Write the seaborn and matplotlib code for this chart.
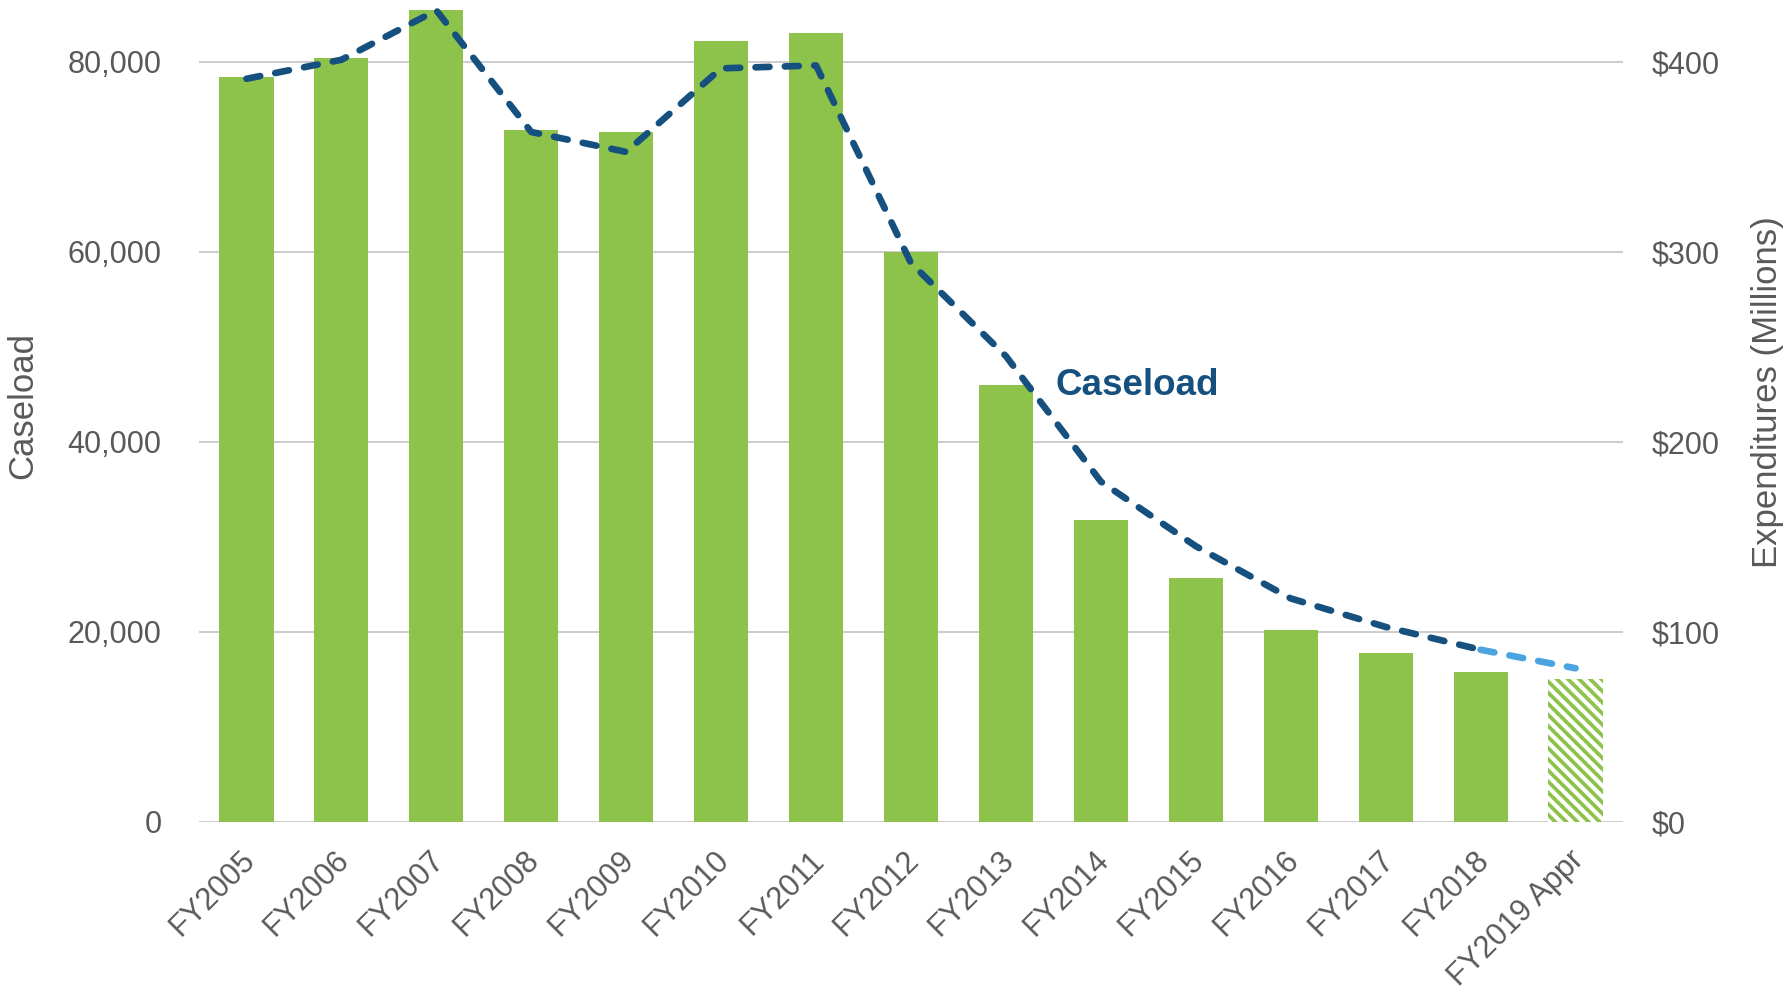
import matplotlib
matplotlib.use("Agg")
import matplotlib.pyplot as plt
import matplotlib.transforms as mtransforms
import seaborn as sns
import numpy as np
import pandas as pd

# ---- data ----
years = ["FY2005", "FY2006", "FY2007", "FY2008", "FY2009", "FY2010", "FY2011",
         "FY2012", "FY2013", "FY2014", "FY2015", "FY2016", "FY2017", "FY2018",
         "FY2019 Appr"]
expenditures = [392, 402, 427, 364, 363, 411, 415, 300, 230, 159, 128, 101, 89, 79, 75]
caseload = [78200, 80200, 85400, 72600, 70500, 79300, 79600, 58800, 49000,
            35800, 29000, 23500, 20500, 18100, 16150]
left_ticks = [0, 20000, 40000, 60000, 80000]
right_ticks = [0, 100, 200, 300, 400]

GREEN = "#8DC34B"
DARK = "#16507E"
LIGHT = "#4BA3E0"
GREY_TXT = "#595959"
GRID = "#BFBFBF"

sns.set_style("white")
plt.rcParams["font.family"] = ["Liberation Sans", "DejaVu Sans"]
plt.rcParams["hatch.linewidth"] = 2.7
plt.rcParams["hatch.color"] = GREEN

W, H = 1791, 997
fig = plt.figure(figsize=(W / 100, H / 100), dpi=100)
ax_l, ax_r, ax_b, ax_t = 199, 1623, 821.7, 8
ax = fig.add_axes([ax_l / W, 1 - ax_b / H, (ax_r - ax_l) / W, (ax_b - ax_t) / H])

df = pd.DataFrame({"year": years, "exp": expenditures, "case": caseload})
sns.barplot(data=df, x="year", y="exp", color=GREEN, saturation=1, width=0.57,
            errorbar=None, linewidth=0, ax=ax, zorder=2)
last = ax.patches[len(years) - 1]
last.set_facecolor("white")
last.set_edgecolor(GREEN)
last.set_linewidth(0)
last.set_hatch("\\\\\\")

ymax_case = 85650
ax.set_ylim(0, ymax_case / 200)
ax.set_xlim(-0.5, len(years) - 0.5)
ax.set_yticks(right_ticks)
ax.set_yticklabels([f"${v}" for v in right_ticks])
ax.yaxis.grid(True, color=GRID, linewidth=1.1, zorder=0)
ax.set_axisbelow(True)

ax2 = ax.twinx()
ax.yaxis.tick_right()
ax.yaxis.set_label_position("right")
ax2.yaxis.tick_left()
ax2.yaxis.set_label_position("left")

xs = np.arange(len(years))
d1 = pd.DataFrame({"x": xs[:14], "y": caseload[:14]})
d2 = pd.DataFrame({"x": xs[13:], "y": caseload[13:]})
line_kw = dict(linewidth=4.8, linestyle=(0, (2.1, 2.3)), dash_capstyle="round",
               solid_capstyle="round", dash_joinstyle="round")
sns.lineplot(data=d2, x="x", y="y", color=LIGHT, ax=ax2, **line_kw)
sns.lineplot(data=d1, x="x", y="y", color=DARK, ax=ax2, **line_kw)
ax2.set_ylim(0, ymax_case)
ax2.set_xlim(-0.5, len(years) - 0.5)
ax2.set_yticks(left_ticks)
ax2.set_yticklabels([f"{v:,}" for v in left_ticks])
ax2.set_xlabel("")

for a in (ax, ax2):
    for s in a.spines.values():
        s.set_visible(False)

ax.tick_params(axis="y", length=0, pad=21, labelsize=22, labelcolor=GREY_TXT)
ax2.tick_params(axis="y", length=0, pad=27, labelsize=22, labelcolor=GREY_TXT)
ax.tick_params(axis="x", length=0, pad=17, labelsize=22, labelcolor=GREY_TXT)
ax.set_xticks(xs)
ax.set_xticklabels(years, rotation=45, ha="right", rotation_mode="anchor")
shift = mtransforms.ScaledTranslation(-7 / 100, 0, fig.dpi_scale_trans)
for lbl in ax.get_xticklabels():
    lbl.set_transform(lbl.get_transform() + shift)
ax.set_xlabel("")

ax2.set_ylabel("Caseload", fontsize=25, color=GREY_TXT)
ax2.yaxis.label.set_va("center")
ax2.yaxis.set_label_coords((23 - ax_l) / (ax_r - ax_l), (ax_b - 405) / (ax_b - ax_t))
ax.set_ylabel("Expenditures (Millions)", fontsize=25, color=GREY_TXT)
ax.yaxis.label.set_va("center")
ax.yaxis.set_label_coords((1768 - ax_l) / (ax_r - ax_l), (ax_b - 392) / (ax_b - ax_t))

ax2.text(8.52, 44900, "Caseload", fontsize=26.5, fontweight="bold", color=DARK,
         ha="left", va="baseline")

fig.savefig("out.png", dpi=100)
